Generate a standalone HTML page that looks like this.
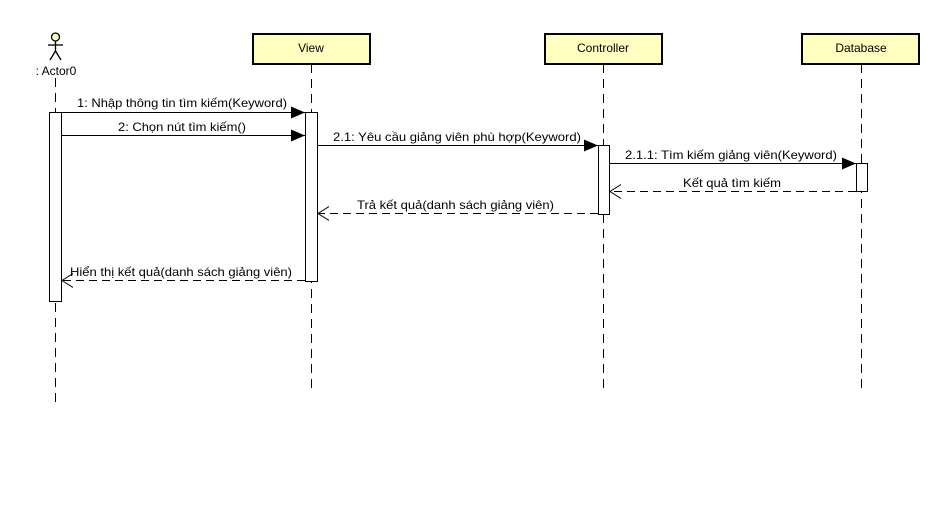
<!DOCTYPE html>
<html><head><meta charset="utf-8"><style>
html,body{margin:0;padding:0;background:#fff;}
svg{display:block;}
text{font-family:"Liberation Sans",sans-serif;font-size:12px;fill:#000;}
</style></head><body>
<svg width="933" height="517" viewBox="0 0 933 517" xmlns="http://www.w3.org/2000/svg">
<defs>
<marker id="f" markerWidth="14" markerHeight="12" refX="14" refY="6" orient="auto" markerUnits="userSpaceOnUse"><path d="M0,0 L14,6 L0,12 z" fill="#000"/></marker>
<marker id="o" markerWidth="12" markerHeight="16" refX="11" refY="8" orient="auto" markerUnits="userSpaceOnUse"><path d="M0,1 L11,8 L0,15" fill="none" stroke="#000"/></marker>
</defs>
<g stroke="#000" stroke-dasharray="9,6" stroke-width="1">
<line x1="55.5" y1="78" x2="55.5" y2="402"/>
<line x1="311.5" y1="64" x2="311.5" y2="390"/>
<line x1="603.5" y1="64" x2="603.5" y2="390"/>
<line x1="861.5" y1="64" x2="861.5" y2="390"/>
</g>
<!-- actor -->
<circle cx="55.5" cy="37" r="4" fill="#ffffc0" stroke="#000" stroke-width="1.3"/>
<g stroke="#000" stroke-width="1.3">
<line x1="55.5" y1="41" x2="55.5" y2="51"/>
<line x1="48" y1="45" x2="63" y2="45"/>
<line x1="55.5" y1="51" x2="50" y2="60"/>
<line x1="55.5" y1="51" x2="61" y2="60"/>
</g>
<text x="56" y="75" text-anchor="middle">: Actor0</text>
<!-- boxes -->
<g fill="#ffffc0" stroke="#000" stroke-width="2">
<rect x="253" y="34" width="117" height="30"/>
<rect x="545" y="34" width="117" height="30"/>
<rect x="802" y="34" width="117" height="30"/>
</g>
<text x="311" y="52" text-anchor="middle">View</text>
<text x="603" y="52" text-anchor="middle">Controller</text>
<text x="861" y="52" text-anchor="middle">Database</text>
<!-- activations -->
<g fill="#fff" stroke="#000" stroke-width="1">
<rect x="49.5" y="112.5" width="12" height="189"/>
<rect x="305.5" y="112.5" width="12" height="169"/>
<rect x="598.5" y="145.5" width="11" height="69"/>
<rect x="856.5" y="163.5" width="11" height="28"/>
</g>
<!-- messages -->
<g stroke="#000" stroke-width="1" fill="none">
<line x1="61" y1="112.5" x2="305" y2="112.5" marker-end="url(#f)"/>
<line x1="61" y1="135.5" x2="305" y2="135.5" marker-end="url(#f)"/>
<line x1="317" y1="145.5" x2="598" y2="145.5" marker-end="url(#f)"/>
<line x1="609" y1="163.5" x2="856" y2="163.5" marker-end="url(#f)"/>
<line x1="856" y1="191.5" x2="610" y2="191.5" stroke-dasharray="8,5" marker-end="url(#o)"/>
<line x1="598" y1="213.5" x2="318" y2="213.5" stroke-dasharray="8,5" marker-end="url(#o)"/>
<line x1="305" y1="280.5" x2="62" y2="280.5" stroke-dasharray="8,5" marker-end="url(#o)"/>
</g>
<text x="77" y="107" textLength="210" lengthAdjust="spacingAndGlyphs">1: Nhập thông tin tìm kiếm(Keyword)</text>
<text x="118" y="131" textLength="128" lengthAdjust="spacingAndGlyphs">2: Chọn nút tìm kiếm()</text>
<text x="333" y="141" textLength="248" lengthAdjust="spacingAndGlyphs">2.1: Yêu cầu giảng viên phù hợp(Keyword)</text>
<text x="625" y="159" textLength="212" lengthAdjust="spacingAndGlyphs">2.1.1: Tìm kiếm giảng viên(Keyword)</text>
<text x="683" y="187" textLength="98" lengthAdjust="spacingAndGlyphs">Kết quả tìm kiếm</text>
<text x="357" y="209" textLength="197" lengthAdjust="spacingAndGlyphs">Trả kết quả(danh sách giảng viên)</text>
<text x="70" y="276" textLength="222" lengthAdjust="spacingAndGlyphs">Hiển thị kết quả(danh sách giảng viên)</text>
</svg>
</body></html>
